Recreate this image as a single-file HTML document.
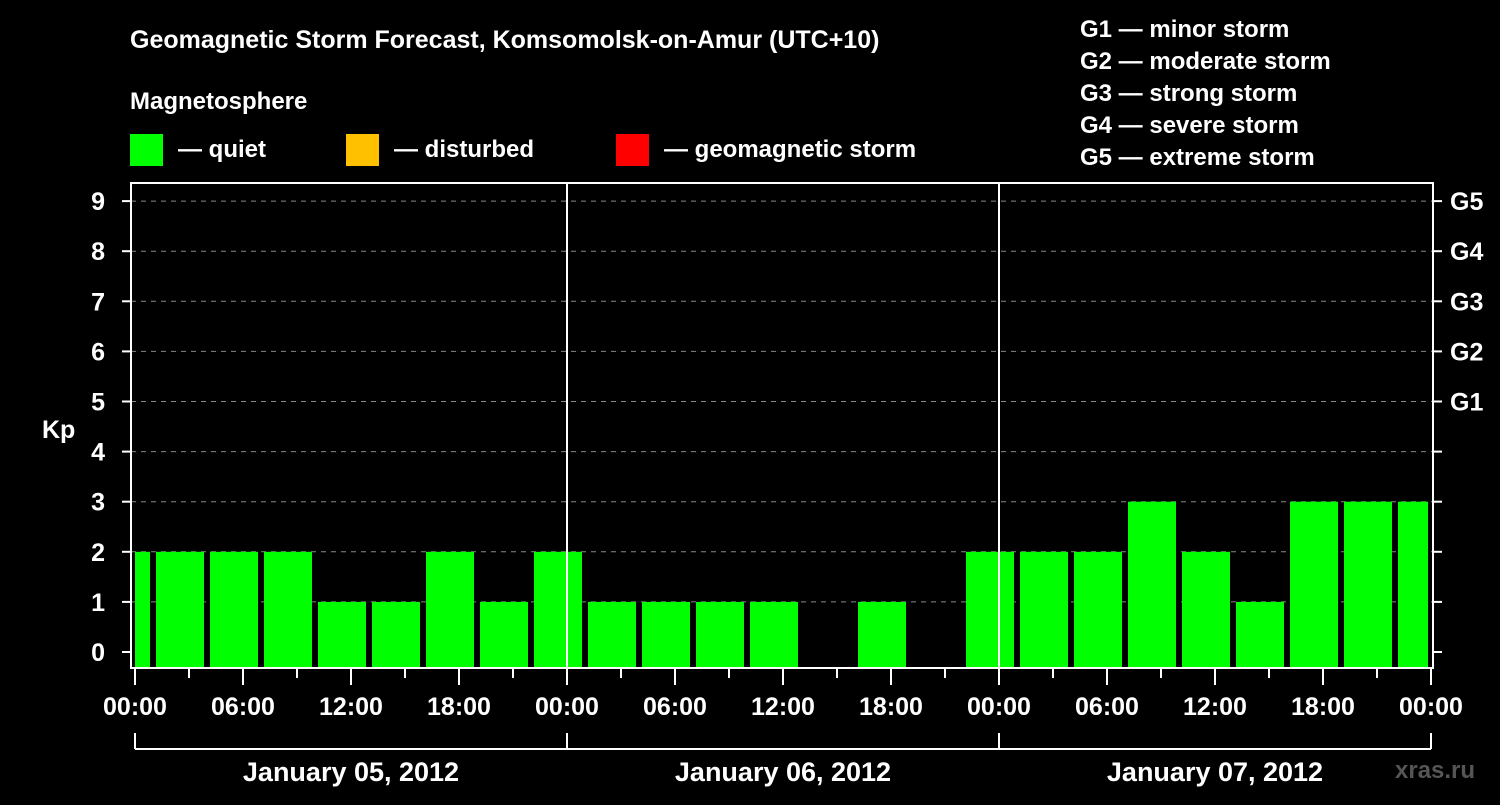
<!DOCTYPE html>
<html><head><meta charset="utf-8"><style>
body{margin:0;background:#000;width:1500px;height:800px;overflow:hidden}
svg text{font-family:"Liberation Sans",sans-serif;font-weight:bold;fill:#fff}
</style></head><body>
<svg width="1500" height="800" id="c">
<text x="130" y="48" font-size="25">Geomagnetic Storm Forecast, Komsomolsk-on-Amur (UTC+10)</text>
<text x="130" y="109" font-size="24">Magnetosphere</text>
<g><rect x="130" y="134" width="33" height="32" fill="#00ff00"/><text x="178" y="157" font-size="24">— quiet</text></g>
<g><rect x="346" y="134" width="33" height="32" fill="#ffc000"/><text x="394" y="157" font-size="24">— disturbed</text></g>
<g><rect x="616" y="134" width="33" height="32" fill="#ff0000"/><text x="664" y="157" font-size="24">— geomagnetic storm</text></g>
<g font-size="24">
<text x="1080" y="37">G1 — minor storm</text><text x="1080" y="69">G2 — moderate storm</text><text x="1080" y="101">G3 — strong storm</text><text x="1080" y="133">G4 — severe storm</text><text x="1080" y="165">G5 — extreme storm</text></g>
<text x="42" y="438" font-size="25">Kp</text>
<text x="1395" y="778" font-size="24" fill="#666" style="fill:#555">xras.ru</text>
<g id="grid"></g><g id="bars"></g><g id="axes"></g>
</svg>
<script>
const values=[2,2,2,2,1,1,2,1,2, 1,1,1,1,0,1,0,2, 2,2,3,2,1,3,3,3];
const yTicks=[0,1,2,3,4,5,6,7,8,9];
const gLabels=["G1","G2","G3","G4","G5"];
const xTickLabels=["00:00","06:00","12:00","18:00","00:00","06:00","12:00","18:00","00:00","06:00","12:00","18:00","00:00"];
const dayLabels=["January 05, 2012","January 06, 2012","January 07, 2012"];
const NS="http://www.w3.org/2000/svg";
const L=131,R=1433,T=183,B=668,X0=135,PXH=18;
const x=h=>X0+h*PXH, y=v=>652-v*50.1;
function mk(tag,at,parent,txt){const e=document.createElementNS(NS,tag);for(const k in at)e.setAttribute(k,at[k]);if(txt!==undefined)e.textContent=txt;document.getElementById(parent).appendChild(e);return e;}
yTicks.forEach(v=>{
 if(v>0){const g=mk('line',{x1:L,x2:R,y1:y(v),y2:y(v),stroke:'#888','stroke-dasharray':'5,5'},'grid');
 
 }
 const t=mk('line',{x1:122,x2:L,y1:y(v),y2:y(v),stroke:'#fff','stroke-width':2},'axes');
 
 
 const l=mk('text',{x:105,y:y(v)+9,'font-size':25,'text-anchor':'end'},'axes',v);
 
 
 const r=mk('line',{x1:R,x2:1442,y1:y(v),y2:y(v),stroke:'#fff','stroke-width':2},'axes');
 
 
});
gLabels.forEach((g,i)=>{const t=mk('text',{x:1450,y:y(5+i)+9,'font-size':25},'axes',g);
 
 });
values.forEach((v,i)=>{if(v<=0)return;
 const c=-0.5+3*i;let x1=Math.max(x(c-4/3),x(0)),x2=Math.min(x(c+4/3),1428);
 const b=mk('rect',{x:x1,y:y(v),width:x2-x1,height:B-y(v),fill:'#00ff00'},'bars');
 
 });
const f=mk('rect',{x:L,y:T,width:R-L,height:B-T,fill:'none',stroke:'#fff','stroke-width':2},'axes');


[1,2].forEach(d=>{const l=mk('line',{x1:x(24*d),x2:x(24*d),y1:T,y2:B,stroke:'#fff','stroke-width':2},'axes');
 
 });
for(let h=0;h<=72;h+=3){const major=h%6===0;const t=mk('line',{x1:x(h),x2:x(h),y1:B,y2:major?685:678,stroke:'#fff','stroke-width':2},'axes');
 
 }
xTickLabels.forEach((s,i)=>{const t=mk('text',{x:x(i*6),y:715,'font-size':25,'text-anchor':'middle'},'axes',s);
 
 });
const br=mk('line',{x1:x(0),x2:x(72),y1:749,y2:749,stroke:'#fff','stroke-width':2},'axes');


for(let d=0;d<=3;d++){const t=mk('line',{x1:x(24*d),x2:x(24*d),y1:733,y2:749,stroke:'#fff','stroke-width':2},'axes');
 
 }
dayLabels.forEach((s,i)=>{const t=mk('text',{x:x(24*i+12),y:781,'font-size':27,'text-anchor':'middle'},'axes',s);
 
 });
</script>
</body></html>
